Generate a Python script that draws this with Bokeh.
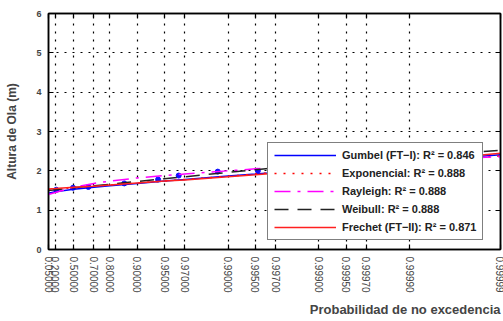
import math
from bokeh.plotting import figure
from bokeh.models import (FixedTicker, LinearAxis, Legend, LegendItem, Range1d,
                          ColumnDataSource, Title, CustomJSTickFormatter)
from bokeh.embed import file_html
from bokeh.resources import INLINE

# ---- data ----
tick_probs = [0.05, 0.2, 0.5, 0.7, 0.8, 0.9, 0.95, 0.97, 0.99, 0.995, 0.997,
              0.999, 0.9995, 0.9997, 0.9999, 0.99999]
tick_labels = ["0.05000", "0.20000", "0.50000", "0.70000", "0.80000", "0.90000",
               "0.95000", "0.97000", "0.99000", "0.99500", "0.99700", "0.99900",
               "0.99950", "0.99970", "0.99990", "0.99999"]
y_ticks = [0, 1, 2, 3, 4, 5, 6]

obs_probs = [0.22, 0.49, 0.654, 0.861, 0.941, 0.965, 0.987, 0.9953]
obs_heights = [1.52, 1.57, 1.59, 1.68, 1.78, 1.88, 1.98, 2.00]

curve_probs = tick_probs
gumbel = [1.43, 1.47, 1.53, 1.58, 1.62, 1.68, 1.74, 1.78, 1.87, 1.92, 1.96,
          2.05, 2.10, 2.14, 2.23, 2.41]
exponencial = [1.52, 1.54, 1.57, 1.61, 1.64, 1.69, 1.74, 1.78, 1.86, 1.92,
               1.96, 2.04, 2.09, 2.13, 2.21, 2.38]
rayleigh = [1.40, 1.45, 1.58, 1.68, 1.74, 1.82, 1.88, 1.92, 2.00, 2.05, 2.08,
            2.14, 2.18, 2.21, 2.26, 2.36]
weibull = [1.50, 1.52, 1.57, 1.62, 1.66, 1.73, 1.80, 1.85, 1.96, 2.03, 2.08,
           2.18, 2.24, 2.28, 2.37, 2.52]
frechet = [1.54, 1.55, 1.58, 1.61, 1.64, 1.69, 1.74, 1.77, 1.85, 1.90, 1.94,
           2.03, 2.09, 2.13, 2.23, 2.45]

legend_labels = ["Gumbel (FT\u2212I): R\u00b2 = 0.846",
                 "Exponencial: R\u00b2 = 0.888",
                 "Rayleigh: R\u00b2 = 0.888",
                 "Weibull: R\u00b2 = 0.888",
                 "Frechet (FT\u2212II): R\u00b2 = 0.871"]


def reduced(p):
    return -math.log(1.0 - p)


tick_x = [reduced(p) for p in tick_probs]
curve_x = [reduced(p) for p in curve_probs]
obs_x = [reduced(p) for p in obs_probs]

FONT = "Liberation Sans"

p = figure(frame_width=452, frame_height=236, output_backend="svg",
           toolbar_location=None,
           x_range=Range1d(reduced(0.05), reduced(0.99999)),
           y_range=Range1d(0, 6),
           min_border_left=48, min_border_right=3, min_border_top=13,
           min_border_bottom=72)
p.background_fill_color = "white"
p.border_fill_color = "white"
p.outline_line_color = "black"
p.outline_line_width = 1.5

# axes
p.xaxis.ticker = FixedTicker(ticks=tick_x)
p.xaxis.major_label_overrides = {x: lab for x, lab in zip(tick_x, tick_labels)}
p.xaxis.major_label_orientation = -math.pi / 2
p.xaxis.major_label_text_font = FONT
p.xaxis.major_label_text_font_size = "10px"
p.xaxis.major_label_standoff = 7
p.yaxis.ticker = FixedTicker(ticks=y_ticks)
p.yaxis.major_label_text_font = FONT
p.yaxis.major_label_text_font_size = "9px"
p.yaxis.major_label_text_font_style = "bold"
p.yaxis.major_label_standoff = 7
p.yaxis.axis_label = "Altura de Ola (m)"
p.yaxis.axis_label_text_font = FONT
p.yaxis.axis_label_text_font_size = "12px"
p.yaxis.axis_label_text_font_style = "bold"
p.yaxis.axis_label_standoff = 14
for ax in [p.xaxis[0], p.yaxis[0]]:
    ax.axis_line_color = "black"
    ax.axis_line_width = 1.5
    ax.major_tick_in = 5
    ax.major_tick_out = 0
    ax.minor_tick_line_color = None
    ax.major_tick_line_width = 1.2

blank = CustomJSTickFormatter(code="return ''")
top_ax = LinearAxis(ticker=FixedTicker(ticks=tick_x), major_tick_in=5, major_tick_out=0,
                    formatter=blank, major_label_standoff=0,
                    minor_tick_line_color=None, axis_line_width=1.5, major_tick_line_width=1.2)
right_ax = LinearAxis(ticker=FixedTicker(ticks=y_ticks), major_tick_in=5, major_tick_out=0,
                      formatter=blank, major_label_standoff=0,
                      minor_tick_line_color=None, axis_line_width=1.5, major_tick_line_width=1.2)
p.add_layout(top_ax, "above")
p.add_layout(right_ax, "right")

# grid
for g in [p.xgrid[0], p.ygrid[0]]:
    g.grid_line_color = "black"
    g.grid_line_dash = "2 6"
    g.grid_line_width = 1.2
p.xgrid.ticker = FixedTicker(ticks=tick_x)
p.ygrid.ticker = FixedTicker(ticks=y_ticks)

# data
src = ColumnDataSource(dict(x=curve_x, g=gumbel, e=exponencial, r=rayleigh,
                            w=weibull, f=frechet))
p.scatter(obs_x, obs_heights, size=5, color="#1010ff", marker="circle")
rg = p.line("x", "g", source=src, color="#0000ff", line_width=1.5)
re_ = p.line("x", "e", source=src, color="#ff0000", line_width=1.5, line_dash="2 7")
rr = p.line("x", "r", source=src, color="#ff00ff", line_width=1.5, line_dash="16 7 3 7")
rw = p.line("x", "w", source=src, color="#222222", line_width=1.5, line_dash="14 9")
rf = p.line("x", "f", source=src, color="#ff2020", line_width=1.5)

legend = Legend(items=[LegendItem(label=l, renderers=[r]) for l, r in
                       zip(legend_labels, [rg, re_, rr, rw, rf])],
                location=(219, 9))
legend.label_text_font = FONT
legend.label_text_font_size = "11px"
legend.label_text_font_style = "bold"
legend.label_text_color = "#222222"
legend.glyph_width = 62
legend.glyph_height = 12
legend.label_height = 12
legend.spacing = 6
legend.padding = 6
legend.margin = 0
legend.label_standoff = 6
legend.border_line_color = "black"
legend.border_line_width = 1.2
legend.background_fill_alpha = 1.0
p.add_layout(legend)

# x-axis title, right aligned below the tick labels
xt = Title(text="Probabilidad de no excedencia", align="right",
           text_font=FONT, text_font_size="13px", text_font_style="bold",
           standoff=8)
p.add_layout(xt, "below")

open("out.html", "w").write(file_html(p, INLINE))
